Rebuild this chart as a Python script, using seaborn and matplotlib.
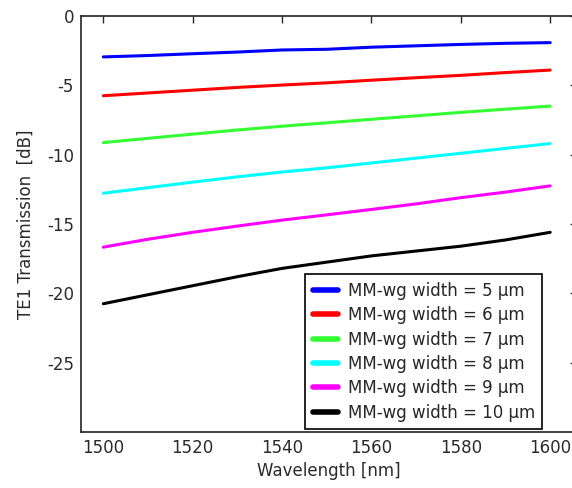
import numpy as np
import pandas as pd
import seaborn as sns
import matplotlib
matplotlib.use("Agg")
import matplotlib.pyplot as plt

# wavelength samples [nm]
wavelength = [1500, 1510, 1520, 1530, 1540, 1550, 1560, 1570, 1580, 1590, 1600]

# TE1 transmission [dB], one list per MM-wg width
w5 = [-2.95, -2.85, -2.72, -2.6, -2.45, -2.4, -2.25, -2.15, -2.05, -1.97, -1.92]
w6 = [-5.75, -5.55, -5.35, -5.15, -4.98, -4.82, -4.63, -4.45, -4.28, -4.08, -3.9]
w7 = [-9.13, -8.82, -8.52, -8.22, -7.95, -7.7, -7.45, -7.2, -6.95, -6.72, -6.5]
w8 = [-12.78, -12.38, -11.98, -11.6, -11.25, -10.95, -10.6, -10.25, -9.9, -9.55, -9.2]
w9 = [-16.67, -16.1, -15.6, -15.15, -14.72, -14.34, -13.95, -13.55, -13.1, -12.7, -12.25]
w10 = [-20.75, -20.1, -19.45, -18.8, -18.2, -17.75, -17.3, -16.95, -16.6, -16.15, -15.6]

labels = ["MM-wg width = 5 µm", "MM-wg width = 6 µm", "MM-wg width = 7 µm",
          "MM-wg width = 8 µm", "MM-wg width = 9 µm", "MM-wg width = 10 µm"]
colors = ["#0000ff", "#ff0000", "#33ff33", "#00ffff", "#ff00ff", "#000000"]

rows = []
for lab, vals in zip(labels, [w5, w6, w7, w8, w9, w10]):
    for x, y in zip(wavelength, vals):
        rows.append({"wl": x, "T": y, "series": lab})
df = pd.DataFrame(rows)

sns.set_style("white")
plt.rcParams['font.family'] = ['DejaVu Sans']

fig = plt.figure(figsize=(5.72, 4.88), dpi=100)
# right spine sits just outside the picture, like in the original
ax = fig.add_axes([81/572, 56/488, 496/572, 416/488])

sns.lineplot(data=df, x="wl", y="T", hue="series", hue_order=labels,
             palette=colors, linewidth=2.2, ax=ax)

ax.set_xlim(1495, 1606)
ax.set_ylim(-30, 0)
ax.set_xticks([1500, 1520, 1540, 1560, 1580, 1600])
ax.set_yticks([0, -5, -10, -15, -20, -25])
ax.set_yticklabels(["0", "-5", "-10", "-15", "-20", "-25"])
ax.tick_params(direction="in", top=True, right=True, length=5, width=1,
               labelsize=12, colors="#2a2a2a", pad=5)
for s in ax.spines.values():
    s.set_color("#222222")
    s.set_linewidth(1.2)
ax.set_xlabel("Wavelength [nm]", fontsize=12, color="#2a2a2a", labelpad=4)
ax.set_ylabel("TE1 Transmission  [dB]", fontsize=12, color="#2a2a2a", labelpad=9)

leg = ax.legend(loc="lower right", bbox_to_anchor=(0.93, 0.007), fontsize=12,
                frameon=True, fancybox=False, edgecolor="black", framealpha=1,
                handlelength=1.5, handletextpad=0.6, labelspacing=0.38,
                borderpad=0.45, borderaxespad=0)
leg.get_frame().set_linewidth(1.2)
for line in leg.get_lines():
    line.set_linewidth(4)

fig.savefig("out.png", dpi=100)
